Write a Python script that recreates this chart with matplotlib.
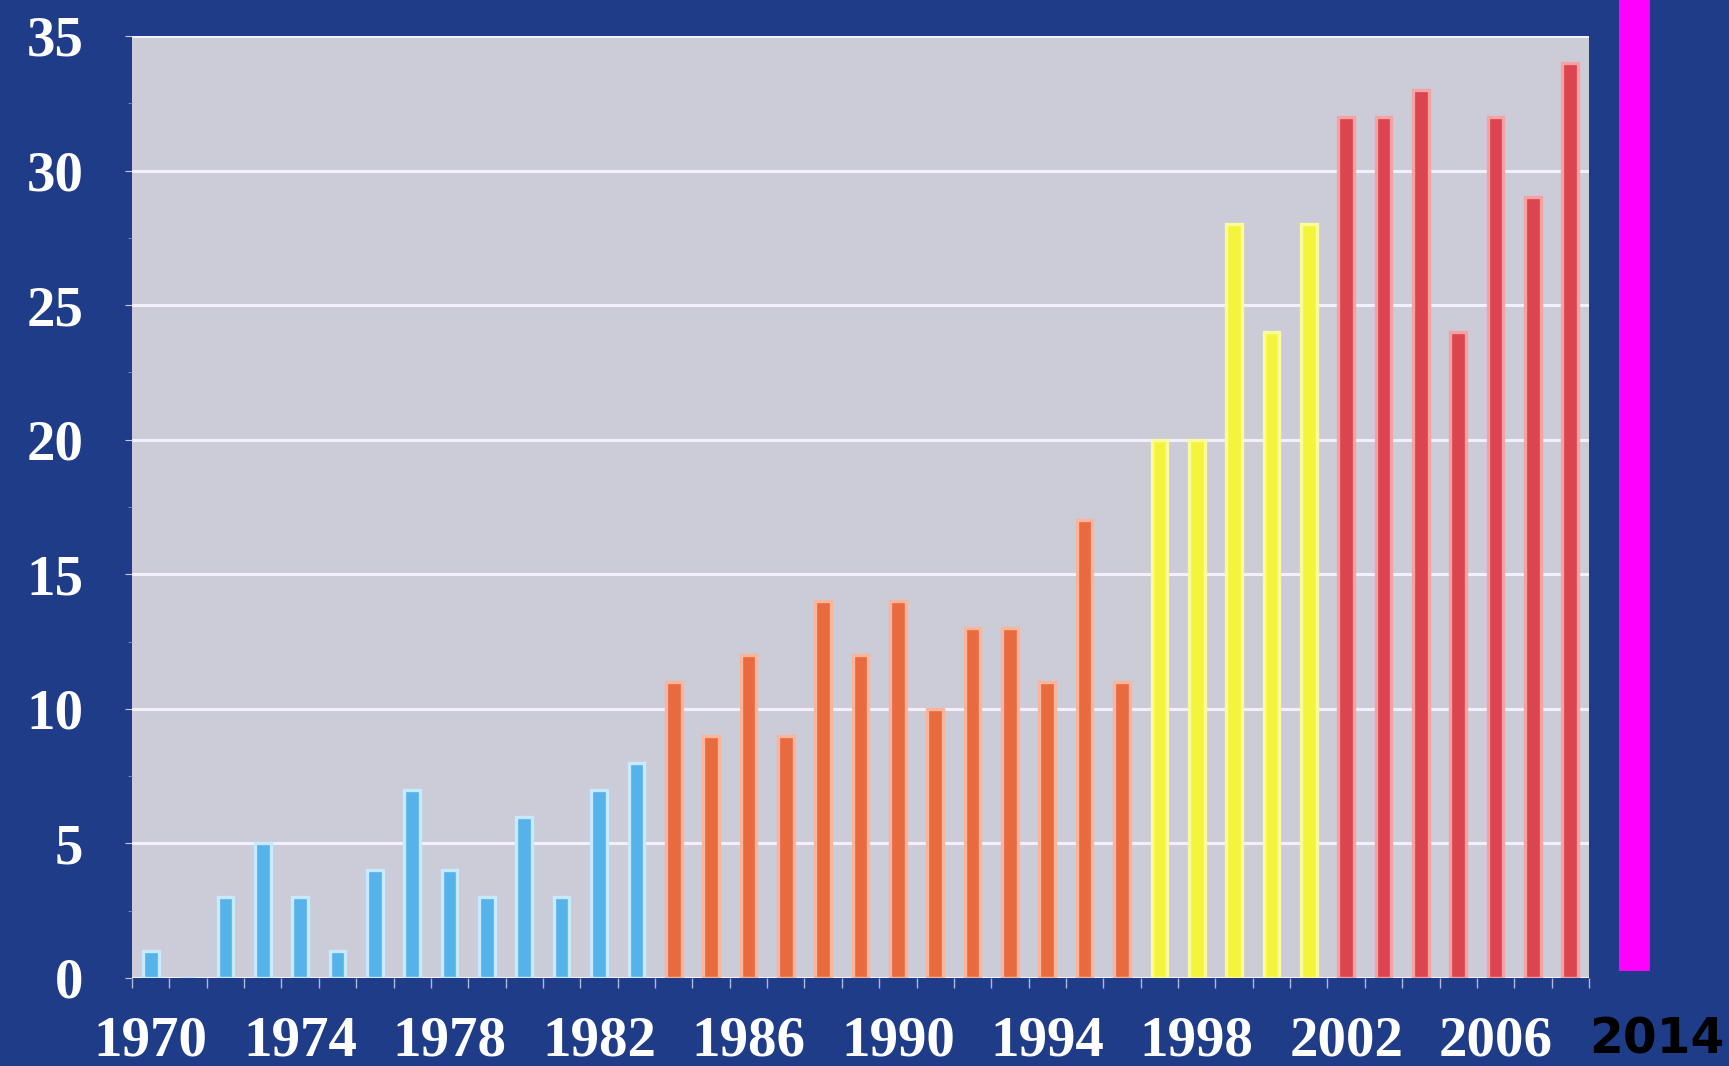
import matplotlib
matplotlib.use("Agg")
import matplotlib.pyplot as plt
from matplotlib.patches import Rectangle
from matplotlib.ticker import MultipleLocator, FixedLocator

years = list(range(1970, 2009))
values = [1, 0, 3, 5, 3, 1, 4, 7, 4, 3, 6, 3, 7, 8,
          11, 9, 12, 9, 14, 12, 14, 10, 13, 13, 11, 17, 11,
          20, 20, 28, 24, 28,
          32, 32, 33, 24, 32, 29, 34]
groups = ["blue"] * 14 + ["orange"] * 13 + ["yellow"] * 5 + ["red"] * 7
xtick_labels = [str(y) for y in range(1970, 2007, 4)]
ytick_values = [0, 5, 10, 15, 20, 25, 30, 35]

face = {"blue": "#58b2ea", "orange": "#ea6a40", "yellow": "#f4f43c", "red": "#dc4450"}
edge = {"blue": "#c6eaff", "orange": "#f7b59a", "yellow": "#fbfb9e", "red": "#f5a2a2"}

BG = "#1f3c89"
fig = plt.figure(figsize=(17.29, 10.66), dpi=100, facecolor=BG)
ax = fig.add_axes([132 / 1729, 88 / 1066, 1457 / 1729, 942 / 1066])
ax.set_facecolor("#cccbd8")

ax.bar(years, values, width=0.42,
       color=[face[g] for g in groups],
       edgecolor=[edge[g] for g in groups], linewidth=2.4, zorder=3)

ax.set_xlim(1969.5, 2008.5)
ax.set_ylim(0, 35)
ax.set_yticks(ytick_values)
ax.set_yticklabels([str(v) for v in ytick_values])
ax.yaxis.set_minor_locator(MultipleLocator(2.5))
ax.set_xticks([int(s) for s in xtick_labels])
ax.set_xticklabels(xtick_labels)
ax.xaxis.set_minor_locator(FixedLocator([y - 0.5 for y in years] + [years[-1] + 0.5]))

ax.grid(axis="y", color="#f2f0fa", linewidth=2.2, zorder=1)
for s in ax.spines.values():
    s.set_visible(False)

for lab in ax.get_yticklabels() + ax.get_xticklabels():
    lab.set_fontfamily("Liberation Serif")
    lab.set_fontweight("bold")
    lab.set_fontsize(41)
    lab.set_color("white")

ax.tick_params(axis="y", which="major", length=5, color="#c8c8e0", pad=30)
ax.tick_params(axis="y", which="minor", length=3, color="#8090c0")
ax.tick_params(axis="x", which="major", length=0, pad=27)
ax.tick_params(axis="x", which="minor", length=7, color="#b0b8dc", width=1)

fig.add_artist(Rectangle((1619 / 1729, 1 - 971 / 1066), 31 / 1729, 971 / 1066,
                         transform=fig.transFigure, facecolor="#ff00ff",
                         edgecolor="none"))
fig.text(1657 / 1729, 1 - 1054 / 1066, "2014", ha="center", va="baseline",
         fontsize=35, fontweight="bold", family="DejaVu Sans", color="black")

fig.savefig("out.png", dpi=100, facecolor=BG)
